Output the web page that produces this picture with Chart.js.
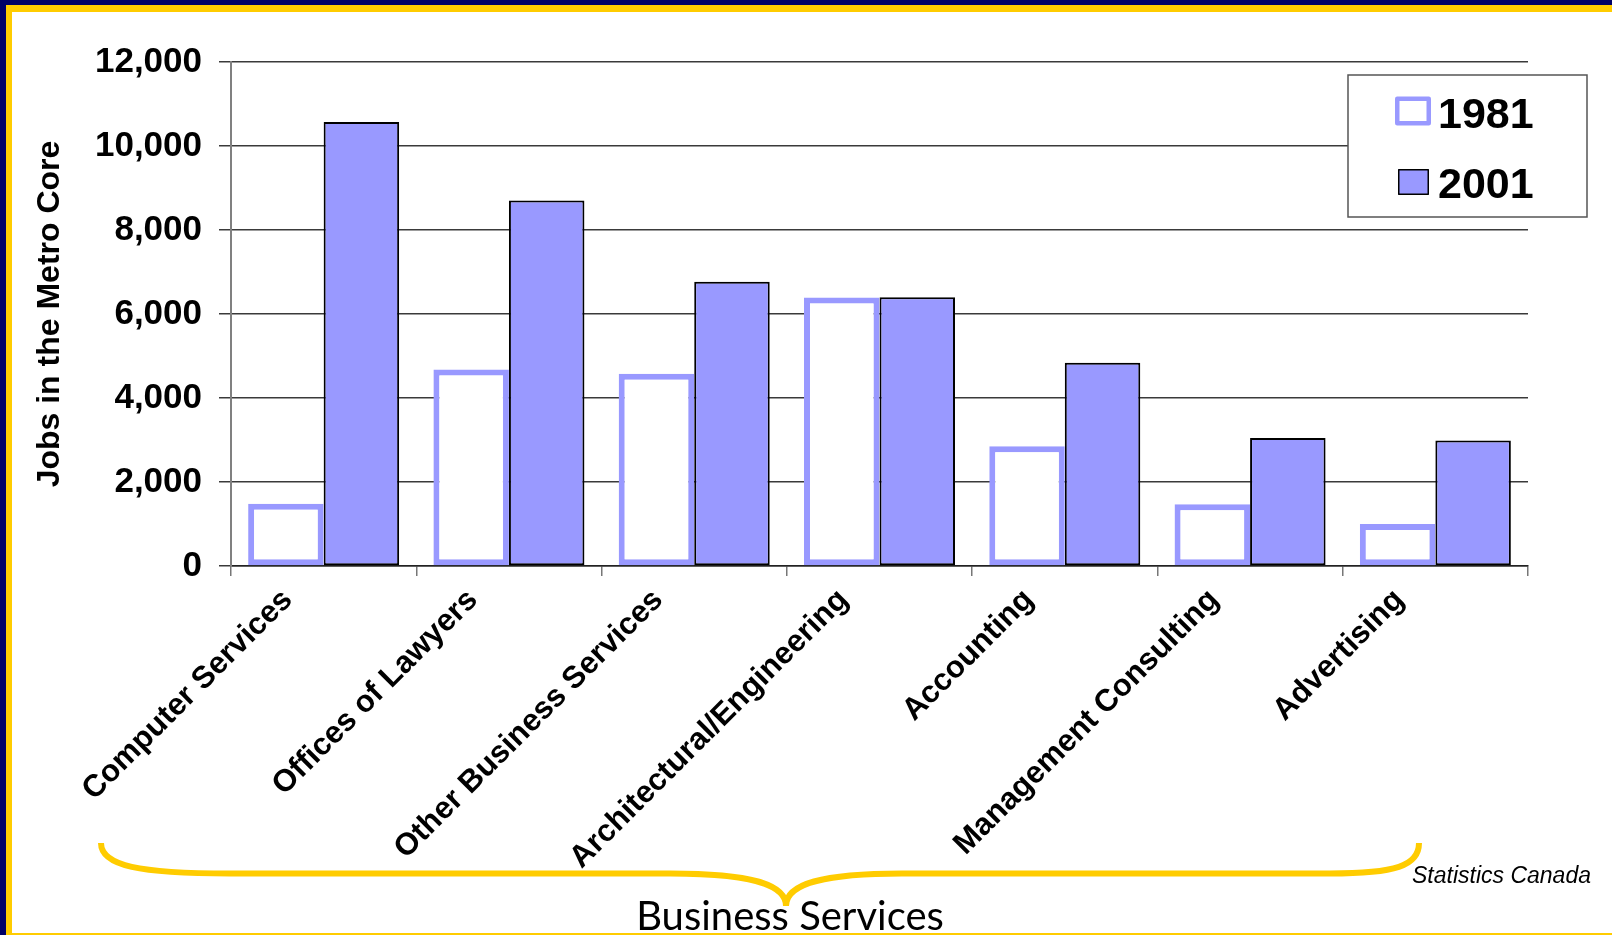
<!DOCTYPE html>
<html>
<head>
<meta charset="utf-8">
<script src="https://cdn.jsdelivr.net/npm/chart.js@4.4.1/dist/chart.umd.min.js"></script>
<style>
html,body{margin:0;padding:0;background:#fff;}
#wrap{position:relative;width:1612px;height:935px;overflow:hidden;background:#fff;}
#c{position:absolute;left:0;top:0;}
.f{position:absolute;}
#brace{position:absolute;left:0;top:0;pointer-events:none;}
#bs{position:absolute;left:540px;top:895px;width:500px;text-align:center;font-family:Lato,'Open Sans',sans-serif;font-size:40px;line-height:1;color:#000;white-space:nowrap;}
#src{position:absolute;left:1412px;top:864px;font-family:'Liberation Sans',Arial,sans-serif;font-style:italic;font-size:23px;line-height:1;color:#000;white-space:nowrap;}
</style>
</head>
<body>
<div id="wrap">
  <canvas id="c" width="1612" height="935"></canvas>
  <svg id="brace" width="1612" height="935">
    <path d="M101 843 C101 866 140 873.5 230 873.5 L670 873.5 C750 873.5 786 884 786 906 M786 906 C786 884 822 873.5 902 873.5 L1330 873.5 C1395 873.5 1419 866 1419 843" fill="none" stroke="#FFCC00" stroke-width="6"/>
  </svg>
  <div id="bs">Business Services</div>
  <div id="src">Statistics Canada</div>
  <div class="f" style="left:0;top:0;width:1612px;height:5px;background:#000066;"></div>
  <div class="f" style="left:6px;top:5px;width:1606px;height:7px;background:#FFCC00;"></div>
  <div class="f" style="left:0;top:0;width:6px;height:935px;background:#000066;"></div>
  <div class="f" style="left:6px;top:5px;width:6px;height:930px;background:#FFCC00;"></div>
  <div class="f" style="left:6px;top:933px;width:1606px;height:2px;background:#FFCC00;"></div>
</div>
<script>
const categories = ['Computer Services', 'Offices of Lawyers', 'Other Business Services', 'Architectural/Engineering', 'Accounting', 'Management Consulting', 'Advertising'];
const seriesLabels = ['1981', '2001'];
const jobs1981 = [1480, 4680, 4580, 6390, 2850, 1470, 1000];
const jobs2001 = [10570, 8700, 6770, 6400, 4840, 3050, 2990];
const yTicks = [0, 2000, 4000, 6000, 8000, 10000, 12000];
const yTitle = 'Jobs in the Metro Core';

Chart.defaults.font.family = "'Liberation Sans', Arial, sans-serif";
Chart.defaults.color = '#000';

const legendBox = {
  id: 'legendBox',
  afterDraw(chart) {
    const ctx = chart.ctx, a = chart.chartArea;
    const bx = a.right - 180, by = a.top + 13, bw = 239, bh = 142;
    ctx.save();
    ctx.fillStyle = '#fff';
    ctx.fillRect(bx, by, bw, bh);
    ctx.strokeStyle = '#555';
    ctx.lineWidth = 1.5;
    ctx.strokeRect(bx, by, bw, bh);
    chart.data.datasets.forEach((ds, i) => {
      const base = by + 52 + i * 70;
      const thick = ds.borderWidth > 3;
      const sw = thick ? 36 : 31, sh = thick ? 29 : 26;
      const sx = bx + 47 + (thick ? 0 : 3);
      const cy = base - 15 - (thick ? 1 : 0);
      const sy = cy - sh / 2;
      ctx.lineJoin = 'round';
      if (thick) {
        const lw = 4.5;
        ctx.fillStyle = ds.backgroundColor;
        ctx.fillRect(sx, sy, sw, sh);
        ctx.strokeStyle = ds.borderColor;
        ctx.lineWidth = lw;
        ctx.strokeRect(sx + lw / 2, sy + lw / 2, sw - lw, sh - lw);
      } else {
        ctx.fillStyle = ds.backgroundColor;
        ctx.fillRect(sx, sy, sw, sh);
        ctx.strokeStyle = ds.borderColor;
        ctx.lineWidth = 1.5;
        ctx.strokeRect(sx + 0.75, sy + 0.75, sw - 1.5, sh - 1.5);
      }
      ctx.fillStyle = '#000';
      ctx.font = "bold 43px 'Liberation Sans', Arial, sans-serif";
      ctx.textBaseline = 'alphabetic';
      ctx.textAlign = 'left';
      ctx.fillText(ds.label, bx + 90, base + 1);
    });
    ctx.restore();
  }
};

new Chart(document.getElementById('c'), {
  type: 'bar',
  data: {
    labels: categories,
    datasets: [
      { label: seriesLabels[0], data: jobs1981, backgroundColor: '#ffffff', borderColor: '#9999ff', borderWidth: 6, borderSkipped: false },
      { label: seriesLabels[1], data: jobs2001, backgroundColor: '#9999ff', borderColor: '#000000', borderWidth: 2, borderSkipped: false }
    ]
  },
  options: {
    responsive: false,
    animation: false,
    devicePixelRatio: 1,
    layout: { padding: { left: 20, right: 84, top: 62, bottom: 0 } },
    datasets: { bar: { categoryPercentage: 0.815, barPercentage: 1.0 } },
    plugins: { legend: { display: false }, tooltip: { enabled: false }, title: { display: false } },
    scales: {
      x: {
        offset: true,
        grid: { display: true, offset: true, drawOnChartArea: false, drawTicks: true, tickLength: 10, color: '#777', lineWidth: 1.5 },
        border: { display: true, color: '#222', width: 1.5 },
        ticks: { color: '#000', font: { size: 31, weight: 'bold' }, minRotation: 45, maxRotation: 45, padding: 6, labelOffset: -36, autoSkip: false },
        afterFit(scale) { scale.height = 369; }
      },
      y: {
        min: 0, max: 12000,
        afterBuildTicks(scale) { scale.ticks = yTicks.map(v => ({ value: v })); },
        grid: { color: '#3a3a3a', lineWidth: 1.5, drawTicks: true, tickLength: 12 },
        border: { display: true, color: '#808080', width: 2 },
        ticks: { color: '#000', font: { size: 35, weight: 'bold' }, padding: 17, callback: v => v.toLocaleString('en-US') },
        title: { display: true, text: yTitle, color: '#000', font: { size: 32, weight: 'bold' }, padding: { top: 11, bottom: 0 } },
        afterFit(scale) { scale.width = 211; }
      }
    }
  },
  plugins: [legendBox]
});
</script>
</body>
</html>
